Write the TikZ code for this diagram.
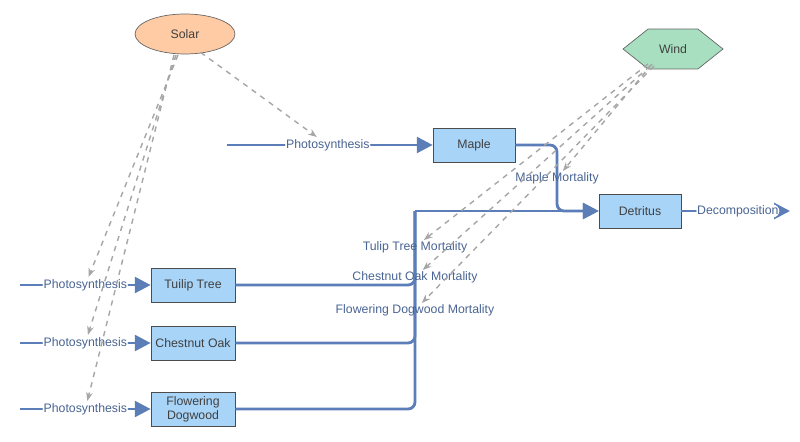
\documentclass[tikz,border=0pt]{standalone}
\usepackage{fontspec}
\setmainfont{Liberation Sans}
\usetikzlibrary{arrows.meta,shapes.geometric}
\definecolor{flowc}{HTML}{5B7DB8}
\definecolor{stockc}{HTML}{A8D4F8}
\definecolor{solarc}{HTML}{FFCBA4}
\definecolor{windc}{HTML}{A8DFC0}
\tikzset{
  stock/.style={draw=black!70,fill=stockc,minimum width=1.64cm,minimum height=0.68cm,font=\scriptsize,text=black!75,align=center,inner sep=1pt},
  flow/.style={draw=flowc,line width=1.6pt,rounded corners=4pt,-{Triangle[length=9pt,width=9pt]}},
  flowlbl/.style={fill=white,text=flowc!80!black,font=\scriptsize,inner sep=0.5pt},
  mortlbl/.style={text=flowc!80!black,font=\scriptsize,inner sep=0.5pt},
  link/.style={draw=gray!70,dashed,line width=0.8pt,-{Stealth[length=5pt]}}
}
\begin{document}
\begin{tikzpicture}[x=0.02cm,y=-0.02cm]
\useasboundingbox (0,0) rectangle (800,442);
\node[ellipse,draw=black!60,fill=solarc,minimum width=2cm,minimum height=0.8cm,font=\scriptsize,text=black!75] (solar) at (185,34) {Solar};
\node[regular polygon,regular polygon sides=6,draw=black!60,fill=windc,minimum size=1cm,inner sep=0pt,xscale=2,yscale=0.92] (wind) at (673,49) {};
\node[font=\scriptsize,text=black!75] at (wind) {Wind};
\node[stock] (maple) at (474,145) {Maple};
\node[stock] (detritus) at (640,211) {Detritus};
\node[stock,minimum width=1.68cm] (tulip) at (193,285) {Tuilip Tree};
\node[stock,minimum width=1.68cm] (oak) at (193,343) {Chestnut Oak};
\node[stock,minimum width=1.68cm] (dogwood) at (193,409) {Flowering\\Dogwood};
\coordinate (srcm) at (227,145);
\coordinate (srct) at (20,285);
\coordinate (srco) at (20,343);
\coordinate (srcd) at (20,409);
\coordinate (trunk) at (415,211);
\coordinate (mbend) at (557,145);
\coordinate (sink) at (790,211);
% inflows
\draw[flow] (srcm) -- node[flowlbl,pos=0.49] (phm) {Photosynthesis} (maple);
\draw[flow] (srct) -- node[flowlbl,pos=0.5] (pht) {Photosynthesis} (tulip);
\draw[flow] (srco) -- node[flowlbl,pos=0.5] (pho) {Photosynthesis} (oak);
\draw[flow] (srcd) -- node[flowlbl,pos=0.5] (phd) {Photosynthesis} (dogwood);
% mortality
\draw[flow] (maple.east) -- (mbend) |- (detritus.west);
\draw[flow,-] (tulip.east) -| (trunk);
\draw[flow,-] (oak.east) -| (trunk);
\draw[flow,-] (dogwood.east) -| (trunk);
\draw[flow] (trunk) -- (detritus.west);
\node[mortlbl] (mm) at (557,178) {Maple Mortality};
\node[mortlbl] (mt) at (415,247) {Tulip Tree Mortality};
\node[mortlbl] (mo) at (415,277) {Chestnut Oak Mortality};
\node[mortlbl] (md) at (415,310) {Flowering Dogwood Mortality};
% decomposition
\draw[flow] (detritus.east) -- node[flowlbl,pos=0.52] (dec) {Decomposition} (sink);
% links
\draw[link] (solar.south east) ++(-20,4) -- (phm);
\draw[link] (178,55) -- (pht);
\draw[link] (176,55) -- (pho);
\draw[link] (174,55) -- (phd);
\draw[link] (652,64) -- (mm);
\draw[link] (648,64) -- (mt);
\draw[link] (650,66) -- (mo);
\draw[link] (654,66) -- (md);
\end{tikzpicture}
\end{document}
